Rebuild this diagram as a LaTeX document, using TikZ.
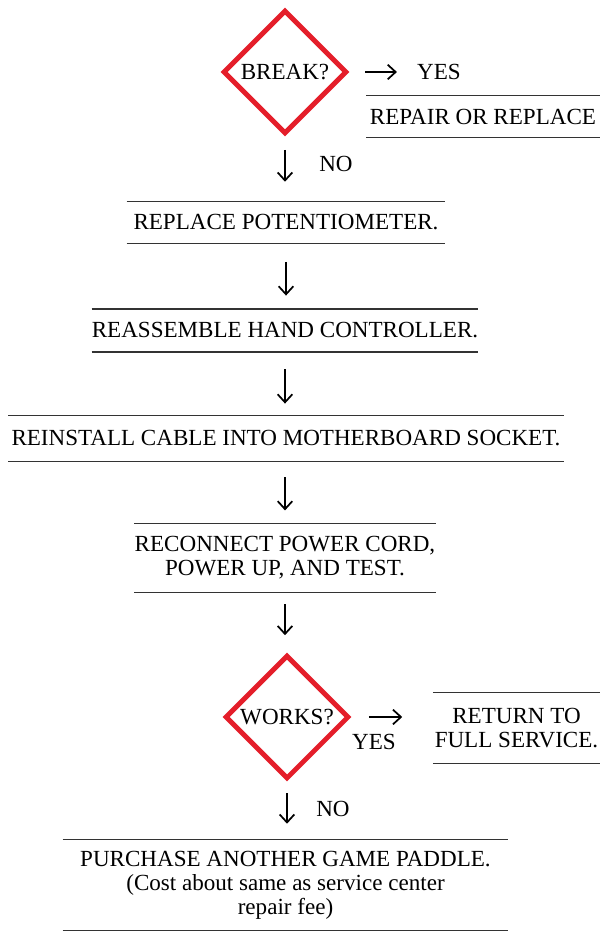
\documentclass[tikz,border=0pt]{standalone}
\usepackage{fontspec}
\setmainfont{Liberation Serif}
\usetikzlibrary{arrows.meta,positioning,shapes.geometric}
\definecolor{checkred}{RGB}{228,30,42}

\tikzset{
  rule/.style={-, line width=1pt, black!80},
  stepbox/.style={inner sep=0pt, align=center,
    append after command={
      (\tikzlastnode.north west) edge[rule] (\tikzlastnode.north east)
      (\tikzlastnode.south west) edge[rule] (\tikzlastnode.south east)}},
  decision/.style={diamond, aspect=1, draw=checkred, line width=3.7pt,
    minimum size=93pt, inner sep=0pt},
  flow/.style={-{Straight Barb[length=6pt,width=11pt]}, line width=1.3pt},
  tag/.style={inner sep=0pt},
}

\begin{document}
\begin{tikzpicture}[x=0.75pt, y=-0.75pt, font=\fontsize{17.3}{18}\selectfont, text=black]
\useasboundingbox (0,0) rectangle (601,932);

\node[decision] (brk) at (285,72) {BREAK?};
\node[tag] (yesA) at (439,72) {YES};
\node[stepbox, minimum width=175pt, minimum height=30.75pt] (rep) at (483,116.5) {REPAIR OR REPLACE};
\node[tag] (noA) at (336,164) {NO};

\node[stepbox, minimum width=238.5pt, minimum height=30.75pt] (pot) at (286,222.5) {REPLACE POTENTIOMETER.};
\node[stepbox, minimum width=288pt, minimum height=32pt] (asm) at (285,330.5) {REASSEMBLE HAND CONTROLLER.};
\node[stepbox, minimum width=416pt, minimum height=34pt] (cab) at (286,438.5) {REINSTALL CABLE INTO MOTHERBOARD SOCKET.};
\node[stepbox, minimum width=223pt, minimum height=51pt] (pwr) at (285,558) {RECONNECT POWER CORD,\\POWER UP, AND TEST.};

\node[decision] (wrk) at (287,717) {WORKS?};
\node[tag] (yesB) at (374,742) {YES};
\node[stepbox, minimum width=125pt, minimum height=52.5pt] (ret) at (516.5,728) {RETURN TO\\FULL SERVICE.};
\node[tag] (noB) at (333,809) {NO};
\node[stepbox, minimum width=334pt, minimum height=67.5pt] (buy) at (285.5,885) {PURCHASE ANOTHER GAME PADDLE.\\(Cost about same as service center\\repair fee)};

% yes branches
\draw[flow, shorten <=12pt, shorten >=15pt] (brk.east) -- (yesA.west);
\draw[flow, shorten <=13pt, shorten >=23pt] (wrk.east) -- (wrk.east -| ret.west);

% main line
\draw[flow, shorten <=10pt, shorten >=15pt] (brk.south) -- (brk.south |- pot.north);
\draw[flow, shorten <=14pt, shorten >=10pt] (pot.south) -- (pot.south |- asm.north);
\draw[flow, shorten <=13pt, shorten >=9pt] (asm.south) -- (asm.south |- cab.north);
\draw[flow, shorten <=12pt, shorten >=10pt] (pwr.south |- cab.south) -- (pwr.north);
\draw[flow, shorten <=9pt, shorten >=13pt] (pwr.south) -- (pwr.south |- wrk.north);
\draw[flow, shorten <=9pt, shorten >=12pt] (wrk.south) -- (wrk.south |- buy.north);
\end{tikzpicture}
\end{document}
